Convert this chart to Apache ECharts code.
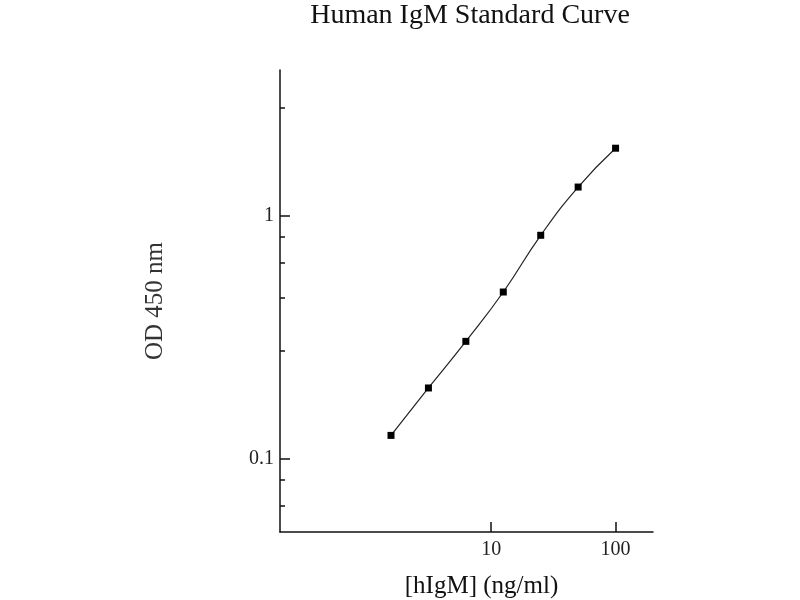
<!DOCTYPE html>
<html>
<head>
<meta charset="utf-8">
<script src="https://cdn.jsdelivr.net/npm/echarts@6/dist/echarts.min.js"></script>
<style>
  html, body { margin: 0; padding: 0; background: #fff; }
  #chart { width: 800px; height: 600px; }
</style>
</head>
<body>
<div id="chart"></div>
<script>
// standard concentrations (ng/ml) and measured OD 450 nm
const conc = [1.5625, 3.125, 6.25, 12.5, 25, 50, 100];
const od = [0.125, 0.196, 0.305, 0.487, 0.834, 1.318, 1.905];
const xTicks = [10, 100];
const yTicks = [0.1, 1];

const font = "Liberation Serif";
const chart = echarts.init(document.getElementById("chart"));

chart.setOption({
  animation: false,
  title: {
    text: "Human IgM Standard Curve",
    left: 465,
    top: -3,
    textAlign: "center",
    textStyle: { fontFamily: font, fontSize: 28, fontWeight: "normal", color: "#111" },
  },
  grid: { left: 280, top: 70, right: 147, bottom: 68, outerBoundsMode: "none" },
  xAxis: {
    type: "log",
    min: 0.2,
    max: 200,
    name: "[hIgM] (ng/ml)",
    nameLocation: "middle",
    nameGap: 42,
    nameTextStyle: { fontFamily: font, fontSize: 25, color: "#111", padding: [0, 0, 0, 30] },
    axisLine: { lineStyle: { color: "#111", width: 1.5 } },
    axisTick: { inside: true, length: 10, customValues: xTicks, lineStyle: { color: "#111", width: 1.5 } },
    axisLabel: { customValues: xTicks, fontFamily: font, fontSize: 20, color: "#222", margin: 8 },
    splitLine: { show: false },
  },
  yAxis: {
    type: "log",
    min: 0.05,
    max: 4,
    name: "OD 450 nm",
    nameLocation: "middle",
    nameRotate: 90,
    nameGap: 112,
    nameTextStyle: { fontFamily: font, fontSize: 25, color: "#333" },
    axisLine: { lineStyle: { color: "#111", width: 1.5 } },
    axisTick: { inside: true, length: 10, customValues: yTicks, lineStyle: { color: "#111", width: 1.5 } },
    minorTick: { show: true, splitNumber: 5, length: 5, lineStyle: { color: "#111", width: 1.5 } },
    axisLabel: { customValues: yTicks, fontFamily: font, fontSize: 20, color: "#222", margin: 6 },
    splitLine: { show: false },
  },
  series: [
    {
      type: "line",
      data: conc.map((c, i) => [c, od[i]]),
      smooth: true,
      symbol: "rect",
      symbolSize: 7,
      lineStyle: { color: "#222", width: 1.2 },
      itemStyle: { color: "#000" },
    },
  ],
});
</script>
</body>
</html>
